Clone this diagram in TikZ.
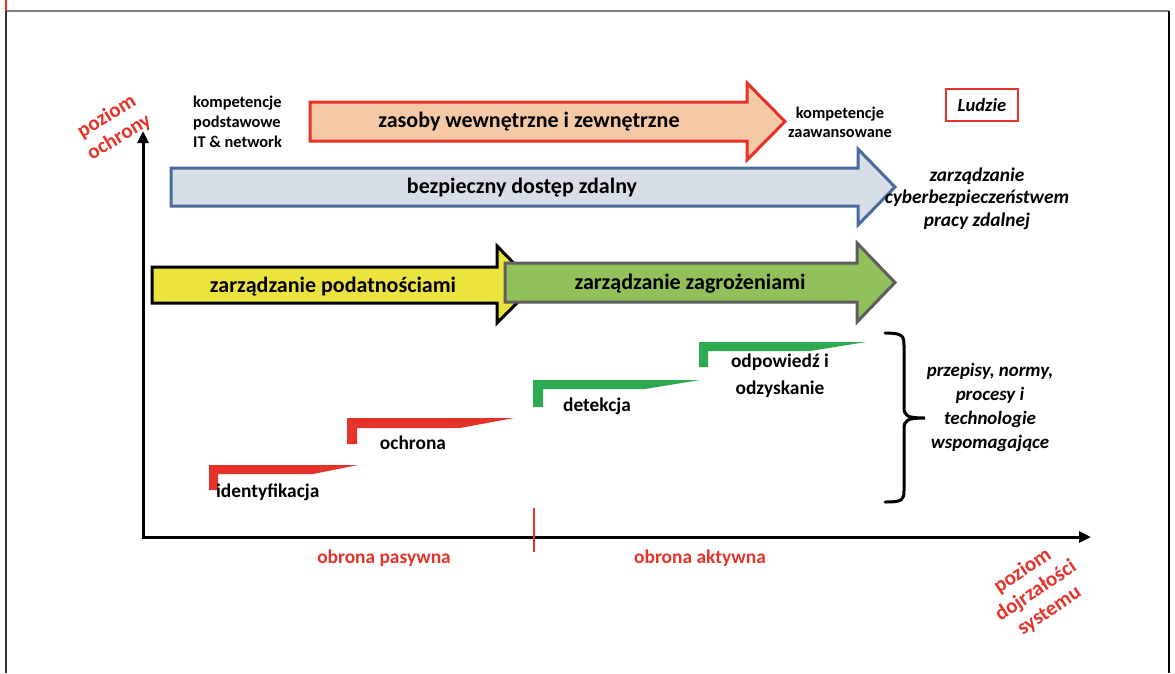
\documentclass[tikz,border=0pt]{standalone}
\usepackage{fontspec}
\setmainfont{Carlito}
\usetikzlibrary{arrows.meta}

\definecolor{ared}{HTML}{E5332A}
\definecolor{peach}{HTML}{F5C8A6}
\definecolor{steel}{HTML}{4A6A9C}
\definecolor{pale}{HTML}{D7DEE8}
\definecolor{lemon}{HTML}{ECE43E}
\definecolor{leaf}{HTML}{92C05A}
\definecolor{slate}{HTML}{5E5E5E}
\definecolor{stepgreen}{HTML}{2DA94F}
\definecolor{framegray}{HTML}{808080}

\tikzset{
  bandarrow/.style={line width=3pt, line join=miter},
  lbl/.style={inner sep=0pt, align=center, font=\bfseries\fontsize{22}{26}\selectfont},
  small/.style={inner sep=0pt, align=center, font=\bfseries\fontsize{16.4}{19}\selectfont},
  note/.style={inner sep=0pt, align=center, font=\bfseries\itshape\fontsize{19.4}{22.5}\selectfont},
  steplbl/.style={inner sep=0pt, align=center, font=\bfseries\fontsize{19.4}{27}\selectfont},
  axislbl/.style={inner sep=0pt, align=center, text=ared, font=\bfseries\fontsize{19.4}{23}\selectfont},
  slanted/.style={axislbl, font=\bfseries\fontsize{21}{24}\selectfont},
  axis/.style={line width=3pt, -{Triangle[length=12pt,width=11pt]}},
}

\begin{document}
\begin{tikzpicture}[x=1pt,y=-1pt]
\useasboundingbox (0,0) rectangle (1175,673);

% outer frame
\draw[framegray, line width=1.5pt] (6,11) -- (1169,11);
\draw[black!80, line width=1.5pt] (6,11) -- (6,673);
\draw[black, line width=1.5pt] (1169,11) -- (1169,673);
\draw[ared, line width=2pt] (6,0) -- (6,11);

% axes
\coordinate (origin) at (143,537);
\coordinate (ytop) at (143,131);
\coordinate (xend) at (1091,537);
\draw[axis] (origin) -- (ytop);
\draw[axis] ([xshift=-1.5pt]origin) -- (xend);
\coordinate (tickA) at (534,508);
\coordinate (tickB) at (534,552);
\draw[ared, line width=2pt] (tickA) -- (tickB);

\node[axislbl] (pas) at (384,558) {obrona pasywna};
\node[axislbl] (akt) at (700,558) {obrona aktywna};
\node[slanted, rotate=31] (yl) at (113,127) {poziom\\ochrony};
\node[slanted, rotate=34] (xl) at (1036,591) {poziom\\dojrzałości\\systemu};

% competence band
\node[small, align=left, anchor=west, font=\bfseries\fontsize{16.4}{20}\selectfont] (basic) at (193,122)
  {kompetencje\\podstawowe\\IT \& network};
\draw[bandarrow, draw=ared, fill=peach]
  (310,102) -- (747,102) -- (747,83) -- (785,121.5) -- (747,160) -- (747,141) -- (310,141) -- cycle;
\node[lbl] (res) at (529,122) {zasoby wewnętrzne i zewnętrzne};
\node[small] (adv) at (840,122) {kompetencje\\zaawansowane};
\node[draw=ared, line width=2pt, inner sep=0pt, minimum width=72pt, minimum height=32pt,
      font=\bfseries\itshape\fontsize{18.6}{22}\selectfont] (people) at (982,105) {Ludzie};

% remote access band
\draw[bandarrow, draw=steel, fill=pale]
  (171,168) -- (858,168) -- (858,149) -- (895,187) -- (858,225) -- (858,206) -- (171,206) -- cycle;
\node[lbl] (remote) at (522,188) {bezpieczny dostęp zdalny};
\node[note] (mgmt) at (977,198.5) {zarządzanie\\cyberbezpieczeństwem\\pracy zdalnej};

% vulnerability and threat bands
\draw[bandarrow, draw=black, fill=lemon]
  (152,267) -- (497,267) -- (497,246) -- (535,285) -- (497,323) -- (497,303) -- (152,303) -- cycle;
\draw[bandarrow, draw=slate, fill=leaf]
  (505,263) -- (857,263) -- (857,243) -- (895,282.5) -- (857,322) -- (857,302) -- (505,302) -- cycle;
\node[lbl] (vuln) at (333,287) {zarządzanie podatnościami};
\node[lbl] (threat) at (690,284) {zarządzanie zagrożeniami};

% maturity steps
\fill[ared] (209,465) -- (358,465) -- (313,474) -- (218,474) -- (218,490) -- (209,490) -- cycle;
\fill[ared] (347,418) -- (514,418) -- (460,428) -- (357,428) -- (357,444) -- (347,444) -- cycle;
\fill[stepgreen] (533,380) -- (700,380) -- (645,389) -- (543,389) -- (543,407) -- (533,407) -- cycle;
\fill[stepgreen] (699,342) -- (866,342) -- (810,351) -- (708,351) -- (708,367) -- (699,367) -- cycle;
\node[steplbl, anchor=west] (s1) at (216,492) {identyfikacja};
\node[steplbl] (s2) at (413,443) {ochrona};
\node[steplbl] (s3) at (597,406) {detekcja};
\node[steplbl] (s4) at (780,375.5) {odpowiedź i\\odzyskanie};

% brace and supporting measures
\coordinate (btop) at (885,333);
\coordinate (btip) at (925,418);
\coordinate (bbot) at (885,502);
\draw[line width=3pt, line cap=round]
  (btop) .. controls (903,333) and (904,336) .. (904,346) -- (904,407)
  .. controls (904,416) and (907,418) .. (btip)
  .. controls (907,418) and (904,420) .. (904,429) -- (904,490)
  .. controls (904,500) and (903,502) .. (bbot);
\node[note, font=\bfseries\itshape\fontsize{18.9}{23.7}\selectfont] (rules) at (990,407.5)
  {przepisy, normy,\\procesy i\\technologie\\wspomagające};
\end{tikzpicture}
\end{document}
